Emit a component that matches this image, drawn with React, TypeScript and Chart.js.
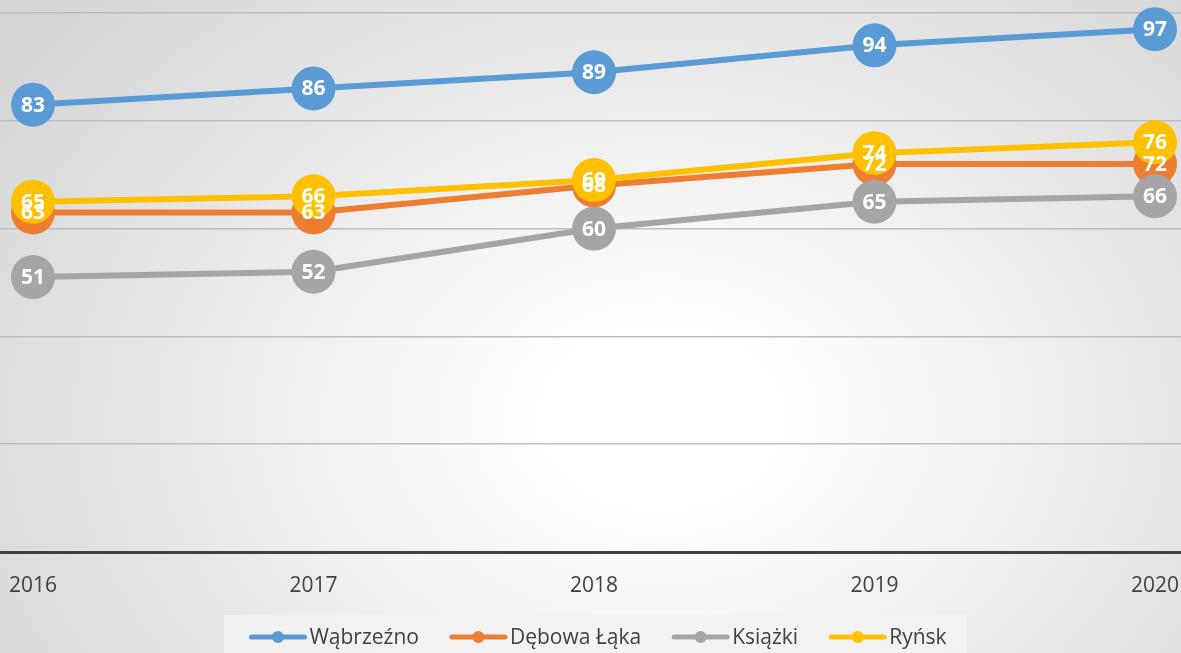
import React, { useEffect, useRef } from "react";
import { Chart, registerables } from "chart.js";

Chart.register(...registerables);

const years = [2016, 2017, 2018, 2019, 2020];
const wabrzezno = [83, 86, 89, 94, 97];
const debowaLaka = [63, 63, 68, 72, 72];
const ksiazki = [51, 52, 60, 65, 66];
const rynsk = [65, 66, 69, 74, 76];
const seriesNames = ["Wąbrzeźno", "Dębowa Łąka", "Książki", "Ryńsk"];
const seriesValues = [wabrzezno, debowaLaka, ksiazki, rynsk];
const seriesColors = ["#5B9BD5", "#ED7D31", "#A5A5A5", "#FFC000"];
const yMin = 0;
const yMax = 100;
const yStep = 20;

const FONT = "'Open Sans', 'DejaVu Sans', sans-serif";

const dataLabelPlugin = {
  id: "dataLabels",
  afterDatasetsDraw(chart: any) {
    const ctx = chart.ctx;
    ctx.save();
    ctx.font = `bold 21px ${FONT}`;
    ctx.fillStyle = "#ffffff";
    ctx.textAlign = "center";
    ctx.textBaseline = "middle";
    chart.data.datasets.forEach((ds: any, i: number) => {
      const meta = chart.getDatasetMeta(i);
      meta.data.forEach((pt: any, j: number) => {
        ctx.fillText(String(ds.data[j].y), pt.x, pt.y + 1);
      });
    });
    ctx.restore();
  },
};

const legendPlugin = {
  id: "customLegend",
  afterDraw(chart: any) {
    const ctx = chart.ctx;
    ctx.save();
    ctx.fillStyle = "rgba(242,242,242,0.85)";
    ctx.fillRect(224, 615, 742, 40);
    ctx.font = `21px ${FONT}`;
    ctx.textBaseline = "middle";
    ctx.textAlign = "left";
    const lineLen = 57;
    const gapText = 3;
    const gapItem = 31;
    const widths = seriesNames.map((n) => ctx.measureText(n).width);
    const total =
      widths.reduce((a, w) => a + lineLen + gapText + w, 0) +
      gapItem * (seriesNames.length - 1);
    let x = 598 - total / 2;
    const y = 637;
    seriesNames.forEach((name, i) => {
      ctx.strokeStyle = seriesColors[i];
      ctx.fillStyle = seriesColors[i];
      ctx.lineWidth = 5;
      ctx.lineCap = "round";
      ctx.beginPath();
      ctx.moveTo(x + 2, y);
      ctx.lineTo(x + lineLen - 2, y);
      ctx.stroke();
      ctx.beginPath();
      ctx.arc(x + lineLen / 2, y, 6, 0, Math.PI * 2);
      ctx.fill();
      ctx.fillStyle = "#404040";
      ctx.fillText(name, x + lineLen + gapText, y + 1);
      x += lineLen + gapText + widths[i] + gapItem;
    });
    ctx.restore();
  },
};

export default function App() {
  const canvasRef = useRef<HTMLCanvasElement | null>(null);

  useEffect(() => {
    document.body.style.margin = "0";
    const canvas = canvasRef.current;
    if (!canvas) return;
    const pxPerYear = (1155 - 33) / 4;
    const chart = new Chart(canvas, {
      type: "line",
      data: {
        datasets: seriesValues.map((vals, i) => ({
          label: seriesNames[i],
          data: years.map((x, j) => ({ x, y: vals[j] })),
          borderColor: seriesColors[i],
          backgroundColor: seriesColors[i],
          pointBackgroundColor: seriesColors[i],
          pointBorderColor: seriesColors[i],
          borderWidth: 6,
          pointRadius: 22,
          pointBorderWidth: 0,
          pointHoverRadius: 22,
          tension: 0,
          clip: false,
          order: seriesNames.length - i,
        })),
      },
      options: {
        animation: false,
        responsive: false,
        devicePixelRatio: 1,
        events: [],
        layout: { autoPadding: false, padding: { top: 13, left: 0, right: 0, bottom: 0 } },
        plugins: {
          legend: { display: false },
          tooltip: { enabled: false },
        },
        scales: {
          x: {
            type: "linear",
            min: years[0] - 33 / pxPerYear,
            max: years[years.length - 1] + 26 / pxPerYear,
            afterBuildTicks: (scale: any) => {
              scale.ticks = years.map((v) => ({ value: v }));
            },
            afterFit: (scale: any) => {
              scale.height = 101;
              scale.paddingLeft = 0;
              scale.paddingRight = 0;
            },
            grid: { display: false, drawTicks: false },
            border: { display: true, color: "#404040", width: 3 },
            ticks: {
              padding: 21,
              color: "#404040",
              font: { family: FONT, size: 21 },
              autoSkip: false,
              maxRotation: 0,
              callback: (v: any) => String(v),
            },
          },
          y: {
            min: yMin,
            max: yMax,
            ticks: { display: false, stepSize: yStep },
            afterFit: (scale: any) => {
              scale.width = 0;
              scale.paddingTop = 0;
              scale.paddingBottom = 0;
            },
            grid: { color: "#bdbdbd", lineWidth: 1.5, drawTicks: false },
            border: { display: false },
          },
        },
      },
      plugins: [dataLabelPlugin, legendPlugin],
    });
    return () => chart.destroy();
  }, []);

  return (
    <div
      style={{
        position: "relative",
        width: 1181,
        height: 653,
        background:
          "radial-gradient(ellipse 70% 95% at 56% 64%, #ffffff 0%, #ffffff 14%, #d4d4d4 100%)",
      }}
    >
      <canvas ref={canvasRef} width={1181} height={653} style={{ display: "block" }} />
    </div>
  );
}
